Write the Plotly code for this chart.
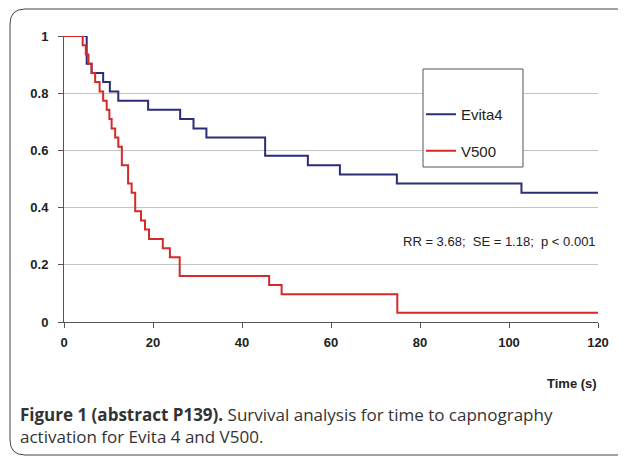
import plotly.graph_objects as go

# ---- data ----
evita_time = [0, 5.1, 6.2, 8.8, 10.3, 12.2, 18.9, 26.1, 29.1, 32.0, 45.2, 54.8, 62.0, 74.8, 102.8, 120]
evita_surv = [1.0, 0.903, 0.871, 0.839, 0.806, 0.774, 0.742, 0.710, 0.677, 0.645, 0.581, 0.548, 0.516, 0.484, 0.452, 0.452]

v500_time = [0, 4.2, 4.9, 5.5, 6.2, 7.0, 8.0, 8.8, 9.6, 10.2, 10.7, 11.5, 12.2, 13.0, 14.4, 15.2,
             16.0, 17.3, 18.2, 19.1, 22.2, 23.8, 26.0, 46.1, 48.9, 74.9, 120]
v500_surv = [1.0, 0.968, 0.935, 0.903, 0.871, 0.839, 0.806, 0.774, 0.742, 0.710, 0.677, 0.645,
             0.613, 0.548, 0.484, 0.452, 0.387, 0.355, 0.323, 0.290, 0.258, 0.226, 0.161,
             0.129, 0.097, 0.032, 0.032]

x_ticks = [0, 20, 40, 60, 80, 100, 120]
y_ticks = [0, 0.2, 0.4, 0.6, 0.8, 1]
y_tick_text = ["0", "0.2", "0.4", "0.6", "0.8", "1"]

series_names = ["Evita4", "V500"]
stats_text = "RR = 3.68;\u00a0 SE = 1.18;\u00a0 p < 0.001"
caption_bold = "Figure 1 (abstract P139)."
caption_rest = " Survival analysis for time to capnography<br>activation for Evita 4 and V500."

# ---- layout geometry (page pixels; the page body adds an 8px offset) ----
W, H = 626, 457
OFF = 8
L, R, T, B = 64, 598, 36, 322


def px(x):
    return (x - L) / (R - L)


def py(y):
    return (B - y) / (B - T)


fig = go.Figure()
fig.add_trace(go.Scatter(x=evita_time, y=evita_surv, mode="lines", line_shape="hv",
                         name=series_names[0], legendgroup="a",
                         line=dict(color="#2b2d78", width=2)))
fig.add_trace(go.Scatter(x=v500_time, y=v500_surv, mode="lines", line_shape="hv",
                         name=series_names[1], legendgroup="b",
                         line=dict(color="#d42a2a", width=2)))

axis_font = dict(family="Liberation Sans, Arial", size=13, color="#222", weight="bold")

fig.update_layout(
    width=W, height=H,
    margin=dict(l=L - OFF, r=W - (R - OFF), t=T - OFF, b=H - (B - OFF)),
    paper_bgcolor="white", plot_bgcolor="white",
    showlegend=True,
    legend=dict(x=px(421), y=py(98), xanchor="left", yanchor="top",
                bgcolor="rgba(0,0,0,0)", borderwidth=0,
                font=dict(family="Liberation Sans, Arial", size=15, color="#222"),
                itemwidth=30, tracegroupgap=14, traceorder="grouped"),
    xaxis=dict(range=[0, 120], tickvals=x_ticks, ticks="outside", ticklen=5,
               tickcolor="#555", showline=True, linecolor="#555", linewidth=1,
               showgrid=False, zeroline=False, tickfont=axis_font, fixedrange=True,
               ticklabelstandoff=3),
    yaxis=dict(range=[0, 1], tickvals=y_ticks, ticktext=y_tick_text, ticks="outside",
               ticklen=5, tickcolor="#555", showline=True, linecolor="#555", linewidth=1,
               showgrid=True, gridcolor="#c4c4c4", gridwidth=1, zeroline=False,
               tickfont=axis_font, fixedrange=True, ticklabelstandoff=7),
)

shapes = [
    # legend box
    dict(type="rect", xref="paper", yref="paper", x0=px(423), x1=px(523), y0=py(69), y1=py(167),
         line=dict(color="#555", width=1), fillcolor="white", layer="above"),
    # outer frame with rounded left corners
    dict(type="path", xref="paper", yref="paper",
         path=(f"M {px(640)},{py(9)} L {px(25)},{py(9)} Q {px(10)},{py(9)} {px(10)},{py(24)} "
               f"L {px(10)},{py(440)} Q {px(10)},{py(455)} {px(25)},{py(455)} L {px(640)},{py(455)}"),
         line=dict(color="#444", width=1)),
]
fig.update_layout(shapes=shapes)

fig.add_annotation(x=px(598), y=py(241), xref="paper", yref="paper", xanchor="right",
                   yanchor="middle", text=stats_text, showarrow=False,
                   font=dict(family="Liberation Sans, Arial", size=13, color="#222"))
fig.add_annotation(x=px(599), y=py(383), xref="paper", yref="paper", xanchor="right",
                   yanchor="middle", text="Time (s)", showarrow=False,
                   font=dict(family="Liberation Sans, Arial", size=13, color="#222", weight="bold"))
fig.add_annotation(x=px(18), y=py(425), xref="paper", yref="paper", xanchor="left",
                   yanchor="middle", align="left", showarrow=False,
                   text=f"<b>{caption_bold}</b>{caption_rest}",
                   font=dict(family="Open Sans", size=17, color="#333"))

fig.write_html("out.html")
